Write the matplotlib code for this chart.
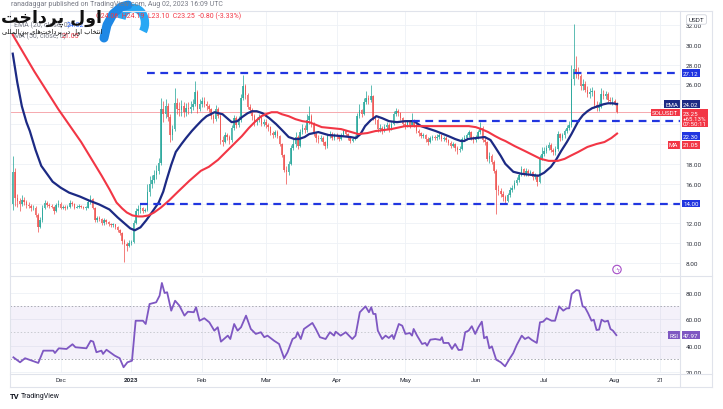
import numpy as np
import pandas as pd
import matplotlib
matplotlib.use('Agg')
import matplotlib.pyplot as plt
import matplotlib.transforms as mtrans
from matplotlib.patches import Circle, Arc

plt.rcParams['font.family'] = ['Roboto', 'DejaVu Sans']

# ---------------- data (SOLUSDT 1D) ----------------
base_date = pd.Timestamp('2023-01-01')
first_date = pd.Timestamp('2022-11-10')
first_open = 14.0

closes = [
    # Nov 10-30
    17.2, 14.6, 14.3, 14.0, 14.4, 14.2, 13.9, 13.8, 13.5, 13.6, 12.8, 11.6, 12.3, 13.6, 14.1, 13.9, 13.8, 13.7, 13.2, 13.9, 14.0,
    # Dec
    13.6, 13.7, 13.5, 13.7, 14.1, 14.0, 13.6, 13.7, 13.8, 13.7, 13.6, 13.6, 14.2, 14.5, 13.6, 12.3, 12.5, 12.4, 12.0, 12.3,
    12.1, 11.9, 11.8, 11.9, 11.6, 11.3, 11.0, 10.2, 9.9, 9.7, 10.0,
    # Jan
    10.1, 12.0, 13.2, 13.4, 13.5, 13.2, 13.3, 15.2, 16.0, 16.4, 16.9, 17.3, 18.1, 23.5, 23.0, 23.8, 22.7, 20.9, 21.5, 24.1,
    23.5, 23.4, 23.8, 23.2, 23.6, 23.5, 23.7, 24.0, 25.2, 23.5, 24.0,
    # Feb
    24.3, 24.0, 23.8, 23.5, 22.8, 22.5, 23.5, 22.8, 20.4, 20.2, 20.9, 20.7, 20.4, 21.6, 22.6, 21.9, 22.4, 24.6, 25.8, 24.9,
    23.7, 23.4, 22.8, 22.2, 22.4, 22.7, 22.0, 22.2,
    # Mar
    21.9, 21.7, 21.1, 20.9, 21.2, 20.8, 20.0, 18.9, 17.4, 17.2, 18.0, 19.6, 20.0, 20.7, 19.8, 21.2, 21.6, 21.4, 22.4, 22.8,
    22.0, 21.0, 20.6, 20.5, 20.6, 20.2, 19.8, 20.8, 21.0, 20.6, 20.9,
    # Apr
    20.8, 20.5, 20.9, 21.3, 21.0, 20.7, 20.3, 20.5, 20.7, 22.8, 23.4, 23.0, 24.2, 24.6, 24.4, 24.8, 22.6, 22.4, 21.5, 21.6,
    21.3, 21.7, 21.9, 21.5, 22.0, 23.0, 23.3, 23.1, 22.6, 22.0,
    # May
    21.9, 22.2, 21.9, 22.4, 21.9, 21.3, 21.1, 20.8, 20.9, 20.5, 20.2, 20.6, 20.7, 20.6, 20.7, 20.9, 20.5, 20.6, 20.4, 20.1,
    19.8, 20.0, 19.6, 19.4, 19.5, 20.5, 20.6, 20.9, 21.2, 20.6, 20.4,
    # Jun
    20.6, 21.2, 21.6, 20.4, 20.2, 18.5, 18.8, 18.2, 17.3, 15.4, 15.3, 15.0, 14.7, 14.3, 14.9, 15.4, 15.6, 16.1, 16.4, 16.9,
    17.5, 17.0, 17.3, 17.1, 17.2, 16.7, 16.9, 16.2, 18.6, 19.0,
    # Jul
    19.3, 19.6, 19.9, 19.4, 19.2, 19.5, 21.0, 20.6, 20.9, 21.3, 21.6, 21.9, 26.5, 27.6, 27.3, 26.9, 25.8, 26.0, 25.4, 25.0,
    25.2, 25.3, 23.9, 23.6, 23.7, 25.0, 24.8, 25.0, 24.4, 24.3, 24.3,
    # Aug 1-2
    24.05, 23.25,
]

highs = [
    18.8, 17.6, 15.0, 14.6, 14.9, 14.7, 14.4, 14.2, 14.0, 13.9, 13.8, 13.0, 12.6, 13.9, 14.4, 14.3, 14.1, 14.0, 13.8, 14.1, 14.4,
    14.2, 13.9, 13.9, 13.9, 14.4, 14.3, 14.1, 13.9, 14.0, 13.9, 13.8, 13.8, 14.4, 14.9, 14.6, 13.7, 12.7, 12.7, 12.5, 12.5,
    12.4, 12.2, 12.0, 12.0, 11.9, 11.7, 11.4, 11.1, 10.4, 10.1, 10.3,
    10.3, 12.3, 13.6, 13.9, 14.1, 13.7, 13.6, 16.0, 16.8, 16.9, 17.4, 17.9, 18.6, 24.6, 24.3, 24.5, 24.1, 23.0, 21.9, 25.6,
    24.6, 24.2, 24.4, 24.2, 24.1, 24.2, 24.3, 24.5, 26.3, 25.4, 24.5,
    24.7, 24.7, 24.3, 24.0, 23.6, 23.0, 23.9, 23.7, 23.0, 20.8, 21.2, 21.1, 20.9, 21.9, 22.9, 22.8, 22.8, 25.0, 27.0, 26.0,
    25.1, 24.0, 23.6, 23.0, 22.7, 23.0, 22.9, 22.5,
    22.5, 22.1, 21.8, 21.3, 21.4, 21.4, 20.9, 20.1, 19.0, 17.8, 18.3, 19.9, 20.5, 21.2, 20.9, 21.5, 22.0, 21.9, 23.0, 23.8,
    23.0, 22.2, 21.2, 20.9, 20.9, 20.8, 20.3, 21.0, 21.3, 21.2, 21.1,
    21.1, 20.9, 21.1, 21.5, 21.4, 21.1, 20.8, 20.7, 20.9, 23.1, 24.0, 23.5, 24.6, 25.3, 24.9, 25.9, 24.9, 22.9, 22.6, 22.0,
    21.8, 22.0, 22.2, 22.1, 22.3, 23.3, 23.6, 23.5, 23.2, 22.7,
    22.3, 22.4, 22.4, 23.1, 22.5, 22.1, 21.5, 21.2, 21.1, 21.0, 20.7, 20.8, 20.9, 20.9, 21.0, 21.1, 21.0, 20.8, 20.8, 20.5,
    20.3, 20.2, 20.1, 19.8, 19.8, 20.7, 20.9, 21.1, 21.4, 21.3, 20.8,
    20.9, 21.4, 22.2, 21.8, 20.7, 20.3, 19.2, 19.0, 18.4, 17.5, 15.9, 15.6, 15.3, 14.9, 15.1, 15.7, 15.9, 16.4, 16.7, 17.2,
    17.8, 17.6, 17.6, 17.5, 17.4, 17.3, 17.1, 17.0, 18.9, 19.7,
    19.7, 19.9, 20.2, 20.1, 19.6, 19.8, 21.3, 21.1, 21.1, 21.5, 21.9, 22.3, 28.0, 32.1, 28.9, 27.8, 27.1, 26.5, 26.3, 25.8,
    25.6, 25.7, 25.4, 24.3, 24.2, 25.6, 25.4, 25.3, 25.2, 24.7, 24.7,
    24.5, 24.19,
]

lows = [
    13.3, 13.8, 13.7, 13.2, 13.8, 13.9, 13.6, 13.5, 13.2, 13.3, 12.6, 11.1, 11.5, 12.1, 13.4, 13.7, 13.6, 13.5, 12.9, 13.1, 13.7,
    13.4, 13.4, 13.3, 13.4, 13.6, 13.8, 13.4, 13.5, 13.5, 13.5, 13.4, 13.3, 13.5, 14.0, 13.4, 12.1, 12.1, 12.2, 11.8, 11.8,
    11.9, 11.7, 11.6, 11.6, 11.4, 11.1, 10.8, 9.9, 8.1, 9.2, 9.6,
    9.8, 10.0, 11.9, 12.8, 13.0, 13.0, 13.1, 13.2, 14.8, 15.6, 16.1, 16.5, 17.0, 17.9, 22.2, 22.6, 22.3, 20.2, 20.4, 21.3,
    23.0, 22.8, 22.8, 22.7, 22.8, 23.0, 23.1, 23.4, 23.8, 23.1, 23.3,
    23.7, 23.7, 23.4, 23.2, 22.5, 22.1, 22.3, 22.6, 20.0, 19.8, 20.1, 20.4, 20.0, 20.2, 21.4, 21.6, 21.7, 22.2, 24.4, 24.5,
    23.5, 23.1, 22.4, 21.8, 21.9, 22.2, 21.8, 21.8,
    21.6, 21.3, 20.9, 20.6, 20.7, 20.6, 19.8, 18.7, 17.2, 16.0, 16.9, 17.9, 19.4, 19.7, 19.5, 19.7, 21.0, 21.1, 21.2, 22.0,
    21.7, 20.8, 20.2, 20.1, 20.3, 19.9, 19.5, 19.6, 20.6, 20.4, 20.4,
    20.5, 20.3, 20.4, 20.8, 20.8, 20.4, 20.1, 20.2, 20.4, 20.6, 22.6, 22.7, 22.9, 24.0, 24.0, 24.2, 22.4, 22.0, 21.2, 21.2,
    21.0, 21.2, 21.5, 21.2, 21.4, 21.9, 22.8, 22.8, 22.4, 21.8,
    21.5, 21.7, 21.6, 21.8, 21.7, 21.1, 20.8, 20.6, 20.6, 20.2, 19.9, 20.1, 20.4, 20.4, 20.4, 20.5, 20.3, 20.3, 20.2, 19.9,
    19.6, 19.7, 19.3, 19.0, 19.2, 19.4, 20.3, 20.4, 20.7, 20.4, 20.1,
    20.2, 20.5, 21.0, 20.2, 19.9, 18.3, 18.1, 18.0, 17.1, 12.9, 14.9, 14.7, 14.3, 14.0, 14.2, 14.7, 15.2, 15.5, 15.9, 16.2,
    16.8, 16.8, 16.8, 16.8, 16.9, 16.4, 16.5, 15.8, 16.1, 18.4,
    18.8, 19.1, 19.4, 19.2, 18.9, 18.9, 19.3, 20.3, 20.4, 20.6, 21.1, 21.4, 21.7, 25.9, 26.6, 26.5, 25.4, 25.4, 25.2, 24.7,
    24.6, 24.8, 23.6, 23.3, 23.3, 23.6, 24.5, 24.5, 24.2, 24.0, 23.9,
    23.9, 23.10,
]

# EMA 20 and MA 50 (day offset from 2023-01-01, price)
ema_days = [-52, -50, -48, -46, -44.5, -42, -39.5, -37, -34.5, -31, -27.3, -22.5, -18.5, -14, -9.6, -6, -3, -0.5, 1.5,
            4, 6.5, 9, 12, 14, 15.5, 17.5, 19.5, 22, 24, 26.5, 28.5, 31, 33, 36.5, 40, 42, 44, 46.5,
            48.5, 51, 53, 55, 57.5, 60.5, 63.5, 66.5, 69, 71.5, 73.5, 76, 78, 82, 86.5, 92, 96, 98.5, 100.5, 102.5, 105,
            107.5, 110, 113, 116.5, 120, 124, 127, 133.5, 139, 142, 144.5, 146, 147.5, 151, 155, 157.5, 159.5, 162, 164,
            167.5, 171, 175, 178.5, 181, 184, 186.5, 188.5, 191, 193, 196, 198, 200, 202, 204.5, 207, 209, 211, 213]
ema_vals = [29.1, 26.2, 23.8, 22.2, 21.3, 19.4, 17.8, 17.0, 16.2, 15.6, 15.1, 14.7, 14.3, 13.9, 13.4, 12.6, 12.0, 11.5, 11.3,
            11.6, 12.3, 13.1, 14.1, 15.2, 16.4, 17.9, 19.2, 20.0, 20.6, 21.3, 21.8, 22.4, 22.8, 23.2, 23.0, 22.6, 22.2, 22.3,
            22.7, 23.1, 23.3, 23.3, 23.1, 22.6, 22.0, 21.3, 20.7, 20.5, 20.5, 20.7, 21.0, 21.2, 20.9, 20.8, 20.7, 20.6, 21.0, 21.8, 22.4,
            22.8, 22.6, 22.3, 22.2, 22.3, 22.3, 21.8, 21.3, 20.8, 20.5, 20.3, 20.3, 20.5, 20.6, 20.7, 20.4, 19.7, 18.8, 18.0,
            17.2, 17.0, 16.9, 16.8, 17.1, 17.7, 18.5, 19.3, 20.2, 21.0, 22.3, 22.9, 23.3, 23.6, 23.8, 24.0, 24.1, 24.1, 24.02]

ma_days = [-52, -42.5, -32, -22, -13, -9.5, -6.5, -4, -2, 0.5, 3, 5, 7.5, 10, 13, 16.5, 20.5, 25.5, 30.5, 34, 38, 41.5,
           45, 48.5, 51.5, 54.5, 57, 59, 61.5, 64, 66, 69, 72, 75, 78, 83.5, 92, 99.5, 103.5, 107, 114, 120, 130, 139,
           148, 151, 153.5, 156.5, 159.5, 162, 164, 168, 172.5, 176, 179.5, 183, 187, 190, 192.5, 196, 200, 204, 207.5, 210.5, 213]
ma_vals = [31.0, 27.3, 23.5, 20.2, 16.8, 15.4, 14.1, 13.5, 13.1, 12.8, 12.7, 12.7, 12.8, 13.1, 13.6, 14.3, 15.2, 16.3, 17.3, 17.7, 18.4, 19.2,
           20.0, 20.8, 21.6, 22.3, 22.8, 23.0, 23.2, 23.2, 23.0, 22.8, 22.5, 22.3, 22.2, 21.7, 21.5, 21.0, 21.1, 21.3, 21.5, 21.8, 21.8, 21.8,
           21.8, 21.7, 21.5, 21.2, 20.8, 20.5, 20.3, 19.8, 19.3, 18.9, 18.5, 18.3, 18.3, 18.5, 18.8, 19.2, 19.7, 20.0, 20.2, 20.6, 21.05]

# RSI(14)
rsi_days = [-51.7, -48.8, -46.6, -40.8, -38.6, -34.2, -33.5, -31.8, -28.4, -25.8,
            -24.5, -19.7, -17.8, -16.7, -15.3, -13.1, -12.4, -10.9, -7.3, -5.1,
            -3.4, -1.7, 0.3, 1.9, 5.1, 6.3, 8.0, 10.9, 12.4, 13.4,
            14.6, 15.7, 17.5, 19.2, 21.1, 23.3, 24.8, 27.4, 28.4, 29.9,
            32.0, 34.2, 36.4, 37.9, 39.3, 42.3, 43.4, 45.1, 46.6, 48.1,
            50.3, 52.4, 54.6, 56.8, 58.3, 59.7, 62.6, 64.8, 67.0, 68.5,
            70.7, 72.1, 72.9, 74.3, 75.7, 79.4, 80.9, 82.7, 85.2, 87.1,
            88.9, 89.6, 91.8, 94.0, 96.9, 98.3, 100.2, 102.7, 104.2, 105.2,
            106.1, 107.1, 108.1, 110.0, 111.5, 112.9, 114.4, 115.1, 117.3, 118.8,
            120.2, 122.1, 123.1, 123.8, 125.3, 127.5, 128.9, 129.7, 131.1, 133.3,
            135.5, 136.2, 136.9, 139.1, 140.6, 142.0, 143.5, 145.0, 146.4, 147.9,
            149.3, 150.8, 152.2, 153.7, 154.7, 155.9, 157.0, 158.1, 160.0, 162.0,
            163.9, 165.8, 167.5, 169.0, 171.2, 172.6, 174.1, 175.6, 177.8, 179.2,
            180.6, 182.1, 184.3, 185.8, 187.6, 189.4, 190.9, 192.0, 193.1, 195.2,
            196.4, 197.9, 198.9, 200.3, 201.8, 202.8, 204.0, 205.1, 206.2, 207.6,
            209.0, 210.1, 211.2, 212.7]
rsi_vals = [31.0, 27.2, 30.3, 26.7, 36.1, 36.1, 34.3, 37.9, 37.4, 41.0,
            38.7, 37.9, 43.7, 43.0, 34.9, 36.1, 33.6, 36.8, 32.3, 30.3,
            23.4, 27.2, 28.4, 59.0, 59.0, 56.5, 71.8, 73.1, 78.2, 87.9,
            80.2, 80.8, 66.7, 74.3, 70.5, 62.9, 65.9, 65.5, 69.3, 59.0,
            60.9, 57.8, 51.4, 54.0, 43.0, 47.6, 45.0, 56.5, 51.4, 54.0,
            62.9, 52.7, 48.9, 50.2, 46.4, 47.6, 43.7, 41.2, 30.3, 34.9,
            45.0, 46.4, 50.2, 45.0, 52.7, 57.3, 52.7, 46.4, 45.0, 50.2,
            47.6, 50.6, 47.6, 50.2, 45.0, 47.6, 65.5, 70.0, 65.5, 69.3,
            64.2, 64.2, 51.4, 45.0, 47.6, 45.8, 48.1, 45.0, 56.5, 55.2,
            48.9, 49.6, 47.6, 52.7, 47.6, 41.2, 42.0, 39.9, 44.5, 45.0,
            44.3, 46.4, 42.0, 42.0, 37.4, 41.2, 36.6, 36.8, 50.2, 51.4,
            54.8, 48.9, 54.0, 58.3, 45.6, 46.8, 37.9, 39.4, 29.2, 27.2,
            24.1, 29.7, 34.3, 40.4, 47.6, 45.0, 46.4, 44.3, 42.0, 57.8,
            58.3, 60.9, 59.0, 59.0, 70.0, 66.7, 68.5, 68.5, 79.5, 82.5,
            82.0, 70.0, 69.3, 64.7, 59.0, 59.8, 51.9, 52.2, 59.8, 58.3,
            59.0, 52.7, 51.4, 47.97]

# horizontal levels drawn on the chart: price, first date
level_prices = [27.12, 22.30, 14.00]
level_starts = ['2023-01-08', '2023-05-04', '2023-01-05']

price_ticks = [8, 10, 12, 14, 16, 18, 20, 22, 24, 26, 28, 30, 32]
hidden_price_ticks = [14, 20, 22, 24]   # covered by the coloured price tags

tick_dates = ['2022-12-01', '2023-01-01', '2023-02-01', '2023-03-01', '2023-04-01',
              '2023-05-01', '2023-06-01', '2023-07-01', '2023-08-01', '2023-08-21']
tick_labels = ['Dec', '2023', 'Feb', 'Mar', 'Apr', 'May', 'Jun', 'Jul', 'Aug', '21']

# ---------------- figure ----------------
W, H = 723, 410
fig = plt.figure(figsize=(W / 100, H / 100), dpi=100)
fig.patch.set_facecolor('white')


def box(x0, y0, x1, y1):
    return [x0 / W, 1 - y1 / H, (x1 - x0) / W, (y1 - y0) / H]


ax = fig.add_axes(box(10, 12, 680, 274))
rx = fig.add_axes(box(10, 279, 680, 374), sharex=ax)
ov = fig.add_axes([0, 0, 1, 1], zorder=5)
ov.set_xlim(0, W)
ov.set_ylim(H, 0)
ov.axis('off')
ov.patch.set_alpha(0)

days = (first_date - base_date).days + np.arange(len(closes))
c = np.array(closes)
o = np.array([first_open] + closes[:-1])
hi = np.maximum(np.array(highs), np.maximum(o, c))
lo = np.minimum(np.array(lows), np.minimum(o, c))
up = c >= o
cols = np.where(up, '#26a69a', '#ef5350')

grid_c = '#eef1f6'
tick_days = [(pd.Timestamp(d) - base_date).days for d in tick_dates]

for a in (ax, rx):
    for s in a.spines.values():
        s.set_visible(False)
    a.set_xticks(tick_days)
    a.grid(True, color=grid_c, lw=0.6)
    a.set_axisbelow(True)
    a.yaxis.tick_right()
    a.tick_params(axis='y', length=0, pad=4, labelsize=4.6, labelcolor='#2a2e39')
    a.tick_params(axis='x', length=0)

ax.set_xlim(-53.2, 240.6)
ax.set_ylim(7.0, 33.4)
ax.set_yticks(price_ticks)
ax.set_yticklabels(['' if v in hidden_price_ticks else '%.2f' % v for v in price_ticks])
ax.tick_params(axis='x', labelbottom=False)

# candles
ax.vlines(days, lo, hi, colors=cols, lw=0.7, alpha=0.75, zorder=2)
ax.bar(days, np.maximum(np.abs(c - o), 0.06), bottom=np.minimum(o, c), width=0.66,
       color=cols, alpha=0.8, linewidth=0, zorder=2)

# last price line
ax.axhline(closes[-1], color='#f6a9ae', lw=0.7, zorder=1)

# moving averages
ax.plot(ema_days, ema_vals, color='#1c2a84', lw=1.6, zorder=4, solid_joinstyle='round')
ax.plot(ma_days, ma_vals, color='#f23645', lw=1.5, zorder=4, solid_joinstyle='round')

# dashed levels
x_right = ax.get_xlim()[1]
for lvl, st in zip(level_prices, level_starts):
    d0 = (pd.Timestamp(st) - base_date).days
    ax.plot([d0, x_right], [lvl, lvl], color='#2136e0', lw=1.6, ls=(0, (3.5, 2.5)), zorder=5)

# RSI panel
rx.set_ylim(19, 91.7)
rx.set_yticks([20, 40, 60, 80])
rx.set_yticklabels(['20.00', '40.00', '60.00', '80.00'])
rx.axhspan(30, 70, color='#7e57c2', alpha=0.08, lw=0)
for v, cc in ((70, '#a9abb3'), (50, '#c9cbd1'), (30, '#a9abb3')):
    rx.axhline(v, color=cc, lw=0.7, ls=(0, (1.5, 2.0)))
rx.plot(rsi_days, rsi_vals, color='#7e57c2', lw=1.3)
rx.set_xticklabels(tick_labels)
rx.tick_params(axis='x', labelsize=4.6, labelcolor='#2a2e39', pad=3)
for lab in rx.get_xticklabels():
    if lab.get_text() == '2023':
        lab.set_fontweight('bold')


def tag(a, y, s, fc, left=False, tc='white', **kw):
    tr = mtrans.blended_transform_factory(a.transAxes, a.transData)
    x, ha = (0.9975, 'right') if left else (1.0045, 'left')
    a.text(x, y, s, transform=tr, ha=ha, va='center', fontsize=4.4, color=tc, zorder=20,
           clip_on=False, bbox=dict(boxstyle='square,pad=0.22', fc=fc, ec='none'), **kw)


tag(ax, 27.12, '27.12', '#2136e0')
tag(ax, 24.02, 'EMA', '#1c2a84', left=True)
tag(ax, 24.02, '24.02', '#1c2a84')
tag(ax, 23.18, 'SOLUSDT', '#f23645', left=True)
tag(ax, 22.6, '23.25\n+65.13%\n07:50:11', '#f23645', linespacing=1.0)
tag(ax, 20.8, '22.30', '#2136e0')
tag(ax, 19.9, 'MA', '#f23645', left=True)
tag(ax, 19.9, '21.05', '#f23645')
tag(ax, 14.0, '14.00', '#2136e0')
tag(rx, 47.97, 'RSI', '#7e57c2', left=True)
tag(rx, 47.97, '47.97', '#7e57c2')

# frame lines
fc_ = '#e0e3eb'
for xs, ys in (([10, 712], [12, 12]), ([10, 712], [276.5, 276.5]), ([10, 712], [374.5, 374.5]),
               ([10, 712], [388, 388]), ([10, 10], [12, 388]), ([680, 680], [12, 388]),
               ([712, 712], [12, 388])):
    ov.plot(xs, ys, color=fc_, lw=0.8)

ov.text(696.5, 20.5, 'USDT', ha='center', va='center', fontsize=4.6, color='#2a2e39',
        bbox=dict(boxstyle='round,pad=0.35,rounding_size=0.3', fc='white', ec='#d1d4dc', lw=0.6))

# header texts
gray = '#787b86'
ov.text(11, 5, 'ranadaggar published on TradingView.com, Aug 02, 2023 16:09 UTC',
        fontsize=5, color=gray, va='center')
ov.text(96, 16.5, 'O24.06  H24.19  L23.10  C23.25  -0.80 (-3.33%)', fontsize=5, color='#f23645', va='center')
ov.text(14, 25.5, 'EMA (20, close, 0)', fontsize=5, color=gray, va='center')
ov.text(67, 25.5, '24.02', fontsize=5, color='#2962ff', va='center')
ov.text(14, 36, 'MA (50, close, 0)', fontsize=5, color=gray, va='center')
ov.text(62, 36, '21.05', fontsize=5, color='#f23645', va='center')

# watermark (Persian, presentation forms in visual order)
ov.text(1, 18, '\uFE96\uFEA7\uFE8D\uFEA9\uFEAE\uFB58 \uFEDD\uFEED\uFE8D', fontsize=12.5, fontweight='bold',
        color='#111111', va='center', family=['DejaVu Sans'])
ov.text(2, 32, '\uFBFD\uFEE0\uFEE0\uFEE4\uFEDF\uFE8D\uFEE6\uFBFE\uFE91 '
        '\uFBFC\uFE8E\uFEEB\uFE96\uFEA7\uFE8D\uFEA9\uFEAE\uFB58 '
        '\uFEAD\uFEA9 \uFEDD\uFEED\uFE8D \uFE8F\uFE8E\uFEA8\uFE98\uFEE7\uFE8D',
        fontsize=4.8, color='#111111', va='center', family=['DejaVu Sans'])
ov.plot([104, 107, 113, 121, 128], [39, 26, 15, 8, 6], color='#1e88e5', lw=6.5, solid_capstyle='round')
ov.add_patch(Arc((133, 24), 24, 30, theta1=200, theta2=40, lw=6, color='#29a8f4'))

# alert icon on the separator
ov.add_patch(Circle((617, 270.5), 4.2, fill=False, ec='#a64dc7', lw=0.8))
ov.text(617, 270.7, '\u03DF', fontsize=4.5, color='#a64dc7', ha='center', va='center')

# TradingView footer
ov.text(10, 396.5, 'TV', fontsize=5.5, fontweight='bold', color='#131722', va='center')
ov.text(21, 396.5, 'TradingView', fontsize=5, color='#131722', va='center')

fig.savefig('out.png', dpi=100, facecolor='white')
